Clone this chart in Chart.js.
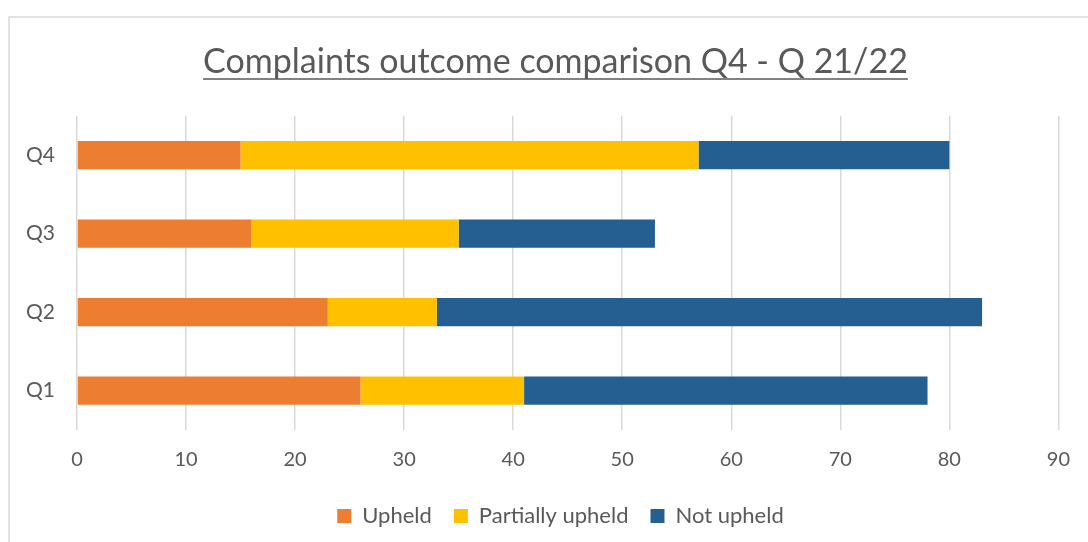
<!DOCTYPE html>
<html>
<head>
<meta charset="utf-8">
<script src="https://cdn.jsdelivr.net/npm/chart.js@4.4.0/dist/chart.umd.min.js"></script>
<style>
  html, body { margin: 0; padding: 0; background: #fff; }
  #wrap { width: 1088px; height: 542px; position: relative; }
</style>
</head>
<body>
<div id="wrap"><canvas id="outcomeChart" width="1088" height="542"></canvas></div>
<script>
// Данные графика
const quarters = ['Q4', 'Q3', 'Q2', 'Q1'];
const upheld = [15, 16, 23, 26];
const partiallyUpheld = [42, 19, 10, 15];
const notUpheld = [23, 18, 50, 37];
const xTicks = [0, 10, 20, 30, 40, 50, 60, 70, 80, 90];

const FONT = 'Lato, Calibri, sans-serif';
const TEXT_COLOR = '#595959';
const TITLE_SIZE = 34;

// Рамка вокруг области графика + подчёркнутый заголовок
const framePlugin = {
    id: 'frame',
    afterLayout(chart) {
        // сдвигаем заголовок и легенду вправо, как в оригинале
        const tb = chart.titleBlock;
        if (tb) { tb.left += 21; tb.right += 21; }
        const lg = chart.legend;
        if (lg) { lg.left += 26; lg.right += 26; }
    },
    beforeDraw(chart) {
        const ctx = chart.ctx;
        ctx.save();
        ctx.fillStyle = '#fff';
        ctx.fillRect(0, 0, chart.width, chart.height);
        ctx.strokeStyle = '#d9d9d9';
        ctx.lineWidth = 1.5;
        ctx.strokeRect(9, 17, 1200, 700);
        ctx.restore();
    },
    afterDraw(chart) {
        const tb = chart.titleBlock;
        if (!tb) return;
        const ctx = chart.ctx;
        ctx.save();
        ctx.font = TITLE_SIZE + 'px ' + FONT;
        const w = ctx.measureText(chart.options.plugins.title.text).width;
        const cx = (tb.left + tb.right) / 2;
        const y = tb.top + tb.options.padding.top + 37;
        ctx.strokeStyle = TEXT_COLOR;
        ctx.lineWidth = 1.6;
        ctx.beginPath();
        ctx.moveTo(cx - w / 2, y);
        ctx.lineTo(cx + w / 2, y);
        ctx.stroke();
        ctx.restore();
    }
};

function createChart() {
    const ctx = document.getElementById('outcomeChart').getContext('2d');
    new Chart(ctx, {
        type: 'bar',
        data: {
            labels: quarters,
            datasets: [
                { label: 'Upheld', data: upheld, backgroundColor: '#ED7D31' },
                { label: 'Partially upheld', data: partiallyUpheld, backgroundColor: '#FFC000' },
                { label: 'Not upheld', data: notUpheld, backgroundColor: '#255E91' }
            ]
        },
        options: {
            indexAxis: 'y',
            responsive: false,
            animation: false,
            barPercentage: 0.36,
            categoryPercentage: 1.0,
            layout: { padding: { left: 9, right: 28, top: 0, bottom: 5 } },
            plugins: {
                title: {
                    display: true,
                    text: 'Complaints outcome comparison Q4 - Q 21/22',
                    color: TEXT_COLOR,
                    font: { family: FONT, size: TITLE_SIZE, weight: 'normal' },
                    padding: { top: 42, bottom: 33 }
                },
                legend: {
                    position: 'bottom',
                    labels: {
                        color: TEXT_COLOR,
                        font: { family: FONT, size: 22 },
                        boxWidth: 14,
                        boxHeight: 14,
                        padding: 22
                    }
                },
                tooltip: { enabled: false }
            },
            scales: {
                x: {
                    stacked: true,
                    min: 0,
                    max: 90,
                    afterBuildTicks(axis) {
                        axis.ticks = xTicks.map(v => ({ value: v }));
                    },
                    afterFit(axis) { axis.height = axis.height - 7; },
                    grid: { color: '#d9d9d9', lineWidth: 1.5, drawTicks: false },
                    border: { display: false },
                    ticks: {
                        color: TEXT_COLOR,
                        font: { family: FONT, size: 20 },
                        padding: 18
                    }
                },
                y: {
                    stacked: true,
                    grid: { display: false },
                    border: { display: false },
                    afterFit(axis) { axis.width = 68; },
                    ticks: {
                        color: TEXT_COLOR,
                        font: { family: FONT, size: 21 },
                        padding: 14
                    }
                }
            }
        },
        plugins: [framePlugin]
    });
}

window.addEventListener('DOMContentLoaded', createChart);
</script>
</body>
</html>
